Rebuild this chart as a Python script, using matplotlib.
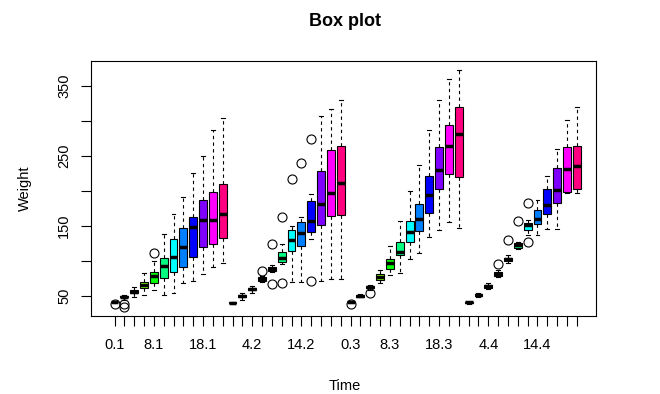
import numpy as np
import matplotlib
matplotlib.use("Agg")
import matplotlib.pyplot as plt
from matplotlib.colors import hsv_to_rgb

plt.rcParams['font.family'] = ['Liberation Sans', 'DejaVu Sans']

# ChickWeight-like box stats, Time x Diet (time varies fastest)
times = [0, 2, 4, 6, 8, 10, 12, 14, 16, 18, 20, 21]
diets = [1, 2, 3, 4]

# diet 1
d1_lo  = [40, 45, 48, 51, 58, 51, 55, 69, 72, 82, 91, 97]
d1_q1  = [41, 48, 54, 61.5, 69, 76, 85, 92, 106, 120, 125, 133]
d1_med = [41, 49, 56.5, 66, 78, 93, 106, 120, 149, 159, 159, 167]
d1_q3  = [42, 50, 59, 70, 84, 104, 131, 147, 163, 187, 199, 210]
d1_hi  = [43, 51, 63, 83, 100, 139, 167, 192, 226, 250, 288, 305]
d1_out = [[39], [39, 35], [], [], [112], [], [], [], [], [], [], []]

# diet 2
d2_lo  = [39, 45, 55, 70, 85, 96, 70, 70, 132, 72, 75, 74]
d2_q1  = [40, 48, 58, 72, 86.5, 98.5, 115, 122, 141, 151, 164, 166]
d2_med = [40.5, 49.5, 60, 75, 89, 104, 130.5, 140.5, 157, 182, 197.5, 212]
d2_q3  = [41, 51, 62, 77, 91.5, 113, 145, 155.5, 186.5, 229.5, 259, 265]
d2_hi  = [42, 54, 65, 79, 95, 124, 150, 163, 196, 307, 318, 331]
d2_out = [[], [], [], [86], [124, 67], [163, 68], [217], [240], [275, 71], [], [], []]

# diet 3
d3_lo  = [40, 48, 59, 68, 80, 83, 103, 112, 134, 145, 156, 147]
d3_q1  = [41, 49, 61, 73.5, 88, 108, 127, 143, 169, 203, 225, 220]
d3_med = [41, 50, 62.5, 77, 97.5, 112.5, 141, 160, 195, 230, 265, 281]
d3_q3  = [42, 52, 64, 82, 103, 128, 158, 182, 221, 263, 295, 320]
d3_hi  = [43, 53, 66, 87, 122, 157, 200, 238, 287, 331, 361, 373]
d3_out = [[39], [], [55], [], [], [], [], [], [], [], [], []]

# diet 4
d4_lo  = [39, 49, 60, 77, 97.5, 117, 137, 138, 146, 146, 197, 197]
d4_q1  = [40, 50.5, 62, 79, 100, 119, 144, 152.5, 167.5, 183, 198.5, 203]
d4_med = [41, 51.5, 64, 82, 102.5, 122.5, 152, 160.5, 179.5, 201, 231, 236.5]
d4_q3  = [41, 53, 66, 84, 105, 126, 154, 173.5, 203, 233, 263, 264]
d4_hi  = [42, 54, 69, 87, 108, 127, 159, 188, 221, 260, 302, 321]
d4_out = [[], [], [], [96], [130], [157], [183, 127], [], [], [], [], []]

lo = d1_lo + d2_lo + d3_lo + d4_lo
q1 = d1_q1 + d2_q1 + d3_q1 + d4_q1
med = d1_med + d2_med + d3_med + d4_med
q3 = d1_q3 + d2_q3 + d3_q3 + d4_q3
hi = d1_hi + d2_hi + d3_hi + d4_hi
outs = d1_out + d2_out + d3_out + d4_out

labels = [f"{t}.{d}" for d in diets for t in times]
shown = ["0.1", "8.1", "18.1", "4.2", "14.2", "0.3", "8.3", "18.3", "4.4", "14.4"]

stats = []
for i in range(len(labels)):
    stats.append(dict(med=med[i], q1=q1[i], q3=q3[i], whislo=lo[i], whishi=hi[i],
                      fliers=outs[i]))

# R's rainbow(12)
cols = [hsv_to_rgb((h / 12, 1, 1)) for h in range(12)] * 4

fig = plt.figure(figsize=(6.6, 3.94), dpi=100)
ax = fig.add_axes([90.7 / 660, 78 / 394, 505 / 660, 255.3 / 394])

pos = np.arange(1, len(labels) + 1)
bp = ax.bxp(stats, positions=pos, widths=0.8, patch_artist=True, capwidths=0.4,
            boxprops=dict(edgecolor='black', linewidth=0.8),
            medianprops=dict(color='black', linewidth=2.5, solid_capstyle='butt'),
            whiskerprops=dict(color='black', linewidth=0.8, linestyle=(0, (3, 3))),
            capprops=dict(color='black', linewidth=0.8),
            flierprops=dict(marker='o', markersize=6.5, markerfacecolor='none',
                            markeredgecolor='black', markeredgewidth=0.8),
            manage_ticks=False)
for patch, c in zip(bp['boxes'], cols):
    patch.set_facecolor(c)

ax.set_xlim(-1.42, 49.92)
ax.set_ylim(21.5, 386.5)

ax.set_xticks(pos)
ax.set_xticklabels([l if l in shown else "" for l in labels])
yt = [50, 100, 150, 200, 250, 300, 350]
ax.set_yticks(yt)
ax.set_yticklabels([str(v) if v in (50, 150, 250, 350) else "" for v in yt],
                   rotation=90, va='center')
ax.tick_params(axis='both', direction='out', length=7, width=0.8, labelsize=10.5)
ax.tick_params(axis='x', pad=9)
ax.tick_params(axis='y', pad=7)
for s in ax.spines.values():
    s.set_linewidth(0.8)

fig.text(0.5227, 1 - 21 / 394, "Box plot", ha='center', va='center',
         fontsize=13, fontweight='bold')
fig.text(0.5227, 1 - 386 / 394, "Time", ha='center', va='center', fontsize=10.5)
fig.text(25 / 660, 1 - 188 / 394, "Weight", ha='center', va='center',
         rotation=90, fontsize=10.5)

fig.savefig("out.png", dpi=100)
